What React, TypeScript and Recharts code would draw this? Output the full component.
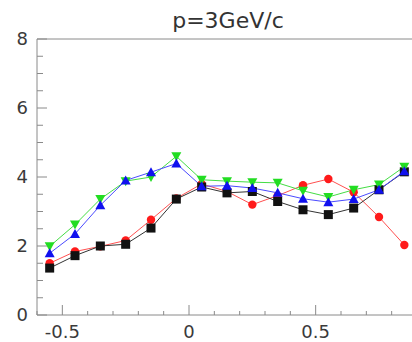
import { LineChart, Line, XAxis, YAxis, ReferenceLine } from 'recharts';

// bin centres along the x axis
const xValues = [-0.55, -0.45, -0.35, -0.25, -0.15, -0.05, 0.05, 0.15, 0.25, 0.35, 0.45, 0.55, 0.65, 0.75, 0.85];

const redValues = [1.5, 1.84, 1.99, 2.16, 2.76, 3.38, 3.8, 3.58, 3.2, 3.46, 3.76, 3.94, 3.56, 2.84, 2.03];
const blackValues = [1.36, 1.72, 2.0, 2.05, 2.52, 3.36, 3.71, 3.54, 3.58, 3.29, 3.05, 2.91, 3.1, 3.63, 4.15];
const greenValues = [1.99, 2.62, 3.36, 3.88, 4.0, 4.6, 3.92, 3.88, 3.85, 3.83, 3.6, 3.42, 3.63, 3.78, 4.3];
const blueValues = [1.79, 2.35, 3.18, 3.9, 4.14, 4.39, 3.73, 3.75, 3.68, 3.54, 3.37, 3.27, 3.36, 3.63, 4.17];

const xTicks = [-0.6, -0.5, -0.4, -0.3, -0.2, -0.1, 0, 0.1, 0.2, 0.3, 0.4, 0.5, 0.6, 0.7, 0.8, 0.9];
const xLabeled = [-0.5, 0, 0.5];
const yTicks = [0, 0.5, 1, 1.5, 2, 2.5, 3, 3.5, 4, 4.5, 5, 5.5, 6, 6.5, 7, 7.5, 8];
const yLabeled = [0, 2, 4, 6, 8];

const data = xValues.map((x, i) => ({
  x,
  red: redValues[i],
  black: blackValues[i],
  green: greenValues[i],
  blue: blueValues[i],
}));

const axisColor = '#8a8a8a';
const labelColor = '#3a3a3a';
const font = '"DejaVu Sans", sans-serif';

const isLabeled = (list: number[], v: number) => list.some((t) => Math.abs(t - v) < 1e-6);

// inward ticks on the left edge, long ones carry a label
const YTick = ({ x, y, payload }: any) => {
  const major = isLabeled(yLabeled, payload.value);
  return (
    <g>
      <line x1={x} x2={x + (major ? 10 : 6)} y1={y} y2={y} stroke={axisColor} />
      {major && (
        <text x={x - 9} y={y} dy={6} textAnchor="end" fontSize={18} fontFamily={font} fill={labelColor}>
          {payload.value}
        </text>
      )}
    </g>
  );
};

const XTick = ({ x, y, payload }: any) => {
  const major = isLabeled(xLabeled, payload.value);
  return (
    <g>
      <line x1={x} x2={x} y1={y} y2={y - (major ? 10 : 4)} stroke={axisColor} />
      {major && (
        <text x={x} y={y} dy={23} textAnchor="middle" fontSize={18} fontFamily={font} fill={labelColor}>
          {payload.value}
        </text>
      )}
    </g>
  );
};

const CircleDot = ({ cx, cy }: any) => <circle cx={cx} cy={cy} r={4.2} fill="#ff1a1a" />;
const SquareDot = ({ cx, cy }: any) => <rect x={cx - 4.5} y={cy - 4.5} width={9} height={9} fill="#111" />;
const UpDot = ({ cx, cy }: any) => (
  <polygon points={`${cx},${cy - 5} ${cx - 5},${cy + 4} ${cx + 5},${cy + 4}`} fill="#1010ee" />
);
const DownDot = ({ cx, cy }: any) => (
  <polygon points={`${cx},${cy + 5} ${cx - 5},${cy - 4} ${cx + 5},${cy - 4}`} fill="#22dd22" />
);

export default function App() {
  return (
    <div style={{ position: 'absolute', left: 0, top: 0, width: 412, height: 342, overflow: 'hidden', background: '#fff' }}>
      <div
        style={{
          position: 'absolute',
          left: 0,
          width: 456,
          top: 8,
          textAlign: 'center',
          fontFamily: font,
          fontSize: 22,
          color: '#333',
        }}
      >
        p=3GeV/c
      </div>
      <LineChart width={430} height={342} data={data} margin={{ top: 39, right: 13, bottom: 0, left: 0 }}>
        <XAxis
          type="number"
          dataKey="x"
          domain={[-0.6, 0.9]}
          ticks={xTicks}
          interval={0}
          height={27}
          tickSize={0}
          tickMargin={0}
          tick={<XTick />}
          axisLine={{ stroke: axisColor }}
          tickLine={false}
        />
        <YAxis
          type="number"
          domain={[0, 8]}
          ticks={yTicks}
          interval={0}
          width={37}
          tickSize={0}
          tickMargin={0}
          tick={<YTick />}
          axisLine={{ stroke: axisColor }}
          tickLine={false}
        />
        <ReferenceLine y={8} stroke={axisColor} />
        <ReferenceLine x={0.9} stroke={axisColor} />
        <Line dataKey="red" stroke="#ff5050" strokeWidth={1} dot={<CircleDot />} isAnimationActive={false} />
        <Line dataKey="black" stroke="#333" strokeWidth={1} dot={<SquareDot />} isAnimationActive={false} />
        <Line dataKey="green" stroke="#44dd44" strokeWidth={1} dot={<DownDot />} isAnimationActive={false} />
        <Line dataKey="blue" stroke="#4a4aff" strokeWidth={1} dot={<UpDot />} isAnimationActive={false} />
      </LineChart>
    </div>
  );
}
